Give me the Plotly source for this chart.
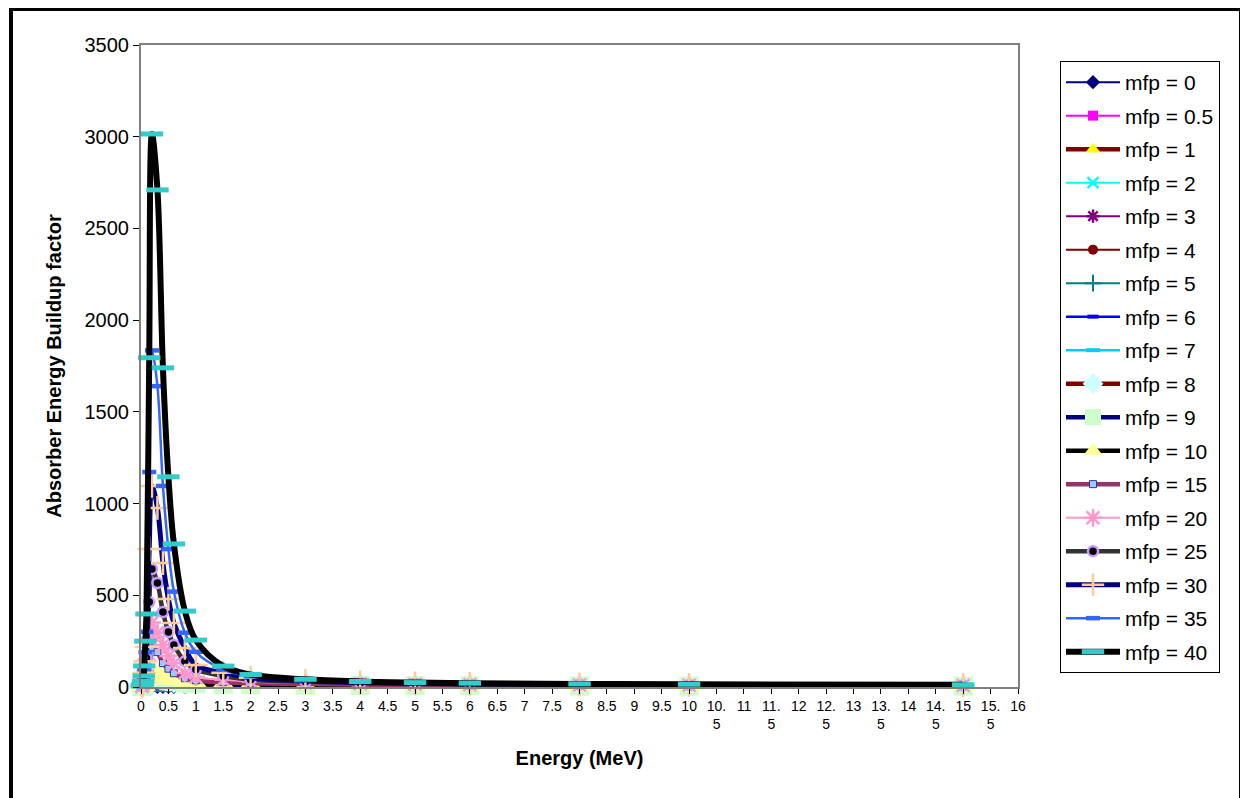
import plotly.graph_objects as go

energy = [0.015, 0.02, 0.03, 0.04, 0.05, 0.06, 0.08, 0.1, 0.15, 0.2, 0.3, 0.4, 0.5, 0.6,
          0.8, 1, 1.5, 2, 3, 4, 5, 6, 8, 10, 15]

mfp_0 = [1] * 25
mfp_0_5 = [1.1, 1.15, 1.35, 1.6, 1.8, 2, 2.3, 2.5, 2.7, 2.75, 2.6, 2.4, 2.2, 2.1, 1.9, 1.8, 1.6, 1.5, 1.4, 1.33, 1.28, 1.25, 1.2, 1.17, 1.13]
mfp_1 = [1.2, 1.3, 1.7, 2.2, 2.6, 3, 3.6, 4.1, 4.6, 4.8, 4.4, 3.9, 3.5, 3.2, 2.9, 2.6, 2.3, 2.1, 1.9, 1.75, 1.65, 1.58, 1.5, 1.43, 1.35]
mfp_2 = [1.3, 1.45, 2.2, 3.1, 3.9, 4.7, 6, 7.1, 8.4, 8.9, 8.2, 7.1, 6.3, 5.7, 4.9, 4.4, 3.8, 3.4, 2.9, 2.7, 2.5, 2.3, 2.15, 2, 1.85]
mfp_3 = [1.4, 1.6, 2.6, 3.8, 5, 6.2, 8.1, 9.8, 12, 13, 12, 10.2, 9, 8, 6.7, 5.9, 5, 4.5, 3.8, 3.4, 3.1, 2.9, 2.7, 2.5, 2.3]
mfp_4 = [1.5, 1.8, 3, 4.5, 6.1, 7.8, 10.5, 13, 16, 17.5, 16, 13.5, 11.7, 10.2, 8.4, 7.3, 6.1, 5.4, 4.6, 4.1, 3.7, 3.4, 3.1, 2.9, 2.6]
mfp_5 = [1.6, 2, 3.4, 5.3, 7.4, 9.8, 13.5, 17, 21, 23, 21, 17.5, 15, 13, 10.6, 9.1, 7.4, 6.5, 5.4, 4.8, 4.3, 4, 3.6, 3.3, 3]
mfp_6 = [1.7, 2.2, 3.8, 6.1, 8.8, 12, 17, 21.5, 27, 30, 27, 22.5, 19, 16.3, 13, 11, 8.9, 7.7, 6.3, 5.5, 4.9, 4.5, 4, 3.7, 3.3]
mfp_7 = [1.8, 2.4, 4.2, 7, 10.3, 14.5, 21, 27, 34, 38, 34, 28, 23.5, 20, 15.7, 13, 10.5, 9, 7.3, 6.3, 5.6, 5.1, 4.5, 4.1, 3.6]
mfp_8 = [1.9, 2.6, 4.7, 8, 12, 17, 26, 33, 42, 47, 43, 35, 29, 24.5, 19, 15.5, 12.3, 10.4, 8.3, 7.1, 6.3, 5.7, 5, 4.5, 4]
mfp_9 = [2, 2.8, 5.3, 9, 14, 20, 31, 40, 52, 58, 54, 44, 36, 30, 23, 18.5, 14.5, 12, 9.5, 8, 7, 6.3, 5.5, 5, 4.4]
mfp_10 = [2.1, 3, 6, 10, 16, 24, 38, 50, 65, 75, 70, 56, 46, 38, 28, 22, 17, 14, 11, 9, 8, 7, 6, 5.5, 4.8]
mfp_15 = [2.5, 3.5, 7, 12, 20, 35, 55, 75, 160, 215, 190, 130, 100, 75, 48, 36, 26, 21, 16, 13, 11, 10, 8.5, 7.5, 6.5]
mfp_20 = [3, 4, 8, 15, 27, 48, 90, 150, 267, 351, 296, 229, 169, 129, 76, 55, 40, 30, 22, 18, 15, 13, 11, 9.5, 8]
mfp_25 = [3, 5, 9, 18, 34, 60, 110, 158, 463, 643, 567, 409, 300, 229, 140, 95, 60, 40, 28, 22, 18, 15, 13, 11, 9]
mfp_30 = [4, 6, 11, 22, 42, 76, 140, 218, 752, 1096, 976, 676, 480, 349, 213, 120, 78, 50, 33, 25, 20, 17, 14, 12, 10]
mfp_35 = [4, 7, 13, 25, 50, 98, 190, 301, 1172, 1835, 1640, 1096, 752, 520, 296, 192, 95, 58, 37, 27, 22, 19, 15, 13, 11]
mfp_40 = [5, 8, 15, 30, 60, 115, 250, 398, 1795, 3015, 2710, 1740, 1146, 780, 414, 256, 114, 68, 42, 30, 24, 21, 17, 15, 12]

series_names = ["mfp = 0", "mfp = 0.5", "mfp = 1", "mfp = 2", "mfp = 3", "mfp = 4", "mfp = 5",
                "mfp = 6", "mfp = 7", "mfp = 8", "mfp = 9", "mfp = 10", "mfp = 15", "mfp = 20",
                "mfp = 25", "mfp = 30", "mfp = 35", "mfp = 40"]
series_values = [mfp_0, mfp_0_5, mfp_1, mfp_2, mfp_3, mfp_4, mfp_5, mfp_6, mfp_7, mfp_8, mfp_9,
                 mfp_10, mfp_15, mfp_20, mfp_25, mfp_30, mfp_35, mfp_40]

x_tickvals = [i * 0.5 for i in range(33)]
x_ticktext = ["0", "0.5", "1", "1.5", "2", "2.5", "3", "3.5", "4", "4.5", "5", "5.5", "6", "6.5",
              "7", "7.5", "8", "8.5", "9", "9.5", "10", "10.<br>5", "11", "11.<br>5", "12",
              "12.<br>5", "13", "13.<br>5", "14", "14.<br>5", "15", "15.<br>5", "16"]

# style: (line color, line width, marker dict)
styles = [
    ("#000080", 2, dict(symbol="diamond", size=11, color="#000080")),
    ("#FF00FF", 2, dict(symbol="square", size=10, color="#FF00FF")),
    ("#800000", 4.5, dict(symbol="triangle-up", size=13, color="#FFFF00")),
    ("#00FFFF", 2, dict(symbol="x-thin-open", size=11, color="#00FFFF", line=dict(color="#00FFFF", width=2.5))),
    ("#800080", 2, dict(symbol="asterisk-open", size=11, color="#800080", line=dict(color="#800080", width=2.5))),
    ("#800000", 2, dict(symbol="circle", size=10, color="#800000")),
    ("#008080", 2, dict(symbol="cross-thin-open", size=12, color="#008080", line=dict(color="#008080", width=2))),
    ("#0000FF", 2.5, dict(symbol="line-ew-open", size=8, color="#0000FF", line=dict(color="#0000FF", width=4))),
    ("#00CCFF", 2.5, dict(symbol="line-ew-open", size=10, color="#00CCFF", line=dict(color="#00CCFF", width=4))),
    ("#800000", 4.5, dict(symbol="diamond", size=16, color="#CCFFFF")),
    ("#000080", 4.5, dict(symbol="square", size=19, color="#CCFFCC")),
    ("#000000", 4.5, dict(symbol="triangle-up", size=20, color="#FFFF99")),
    ("#993366", 4.5, dict(symbol="square", size=7, color="#99CCFF", line=dict(color="#333399", width=1))),
    ("#FF99CC", 2, dict(symbol="asterisk-open", size=15, color="#FF99CC", line=dict(color="#FF99CC", width=2.5))),
    ("#333333", 4.5, dict(symbol="circle", size=10, color="#000000", line=dict(color="#CC99FF", width=2.5))),
    ("#000080", 5, dict(symbol="cross-thin-open", size=17, color="#FFCC99", line=dict(color="#FFCC99", width=2.5))),
    ("#3366FF", 2.5, dict(symbol="line-ew-open", size=10, color="#3366FF", line=dict(color="#3366FF", width=4.5))),
    ("#000000", 6, dict(symbol="line-ew-open", size=16, color="#33CCCC", line=dict(color="#33CCCC", width=5))),
]

fig = go.Figure()
for name, vals, (lc, lw, mk) in zip(series_names, series_values, styles):
    fig.add_trace(go.Scatter(
        x=energy, y=vals, name=name, mode="lines+markers",
        line=dict(color=lc, width=lw, shape="spline", smoothing=1.0),
        marker=mk, legendgroup=name, cliponaxis=False,
    ))

FONT = "Arial, Liberation Sans, sans-serif"
OFF = 8  # page offset of the figure inside the browser window
W, H = 1240, 790
L, T = 141 - OFF, 45 - OFF
R = W - (1018 - OFF)
B = H - (687 - OFF)
pw, ph = W - L - R, H - T - B

def px(xpix):
    return (xpix - OFF - L) / pw

def py(ypix):
    return (H - B - (ypix - OFF)) / ph

fig.update_layout(
    width=W, height=H,
    margin=dict(l=L, r=R, t=T, b=B, autoexpand=False),
    paper_bgcolor="white", plot_bgcolor="white",
    font=dict(family=FONT, color="black"),
    showlegend=True,
    legend=dict(
        x=px(1060), y=py(61), xanchor="left", yanchor="top",
        bgcolor="white", bordercolor="black", borderwidth=1,
        font=dict(family=FONT, size=21, color="black"),
        tracegroupgap=3.2, itemwidth=54,
    ),
    xaxis=dict(
        range=[0, 16], tickvals=x_tickvals, ticktext=x_ticktext, tickangle=0,
        showgrid=False, zeroline=False, showline=True, mirror=True,
        linecolor="#808080", linewidth=2, ticks="outside", ticklen=5, tickcolor="black",
        tickfont=dict(family=FONT, size=14, color="black"),
        title=dict(text="<b>Energy (MeV)</b>", font=dict(family=FONT, size=20, color="black"), standoff=20),
    ),
    yaxis=dict(
        range=[0, 3500], dtick=500, tickformat="d",
        showgrid=False, zeroline=False, showline=True, mirror=True,
        linecolor="#808080", linewidth=2, ticks="outside", ticklen=6, tickcolor="black",
        tickfont=dict(family=FONT, size=20, color="black"),
        title=dict(text="<b>Absorber Energy Buildup factor</b>", font=dict(family=FONT, size=20, color="black"), standoff=18),
    ),
    shapes=[dict(
        type="rect", xref="paper", yref="paper",
        x0=px(11), x1=px(1241), y0=py(812), y1=py(9),
        line=dict(color="black", width=4), fillcolor="rgba(0,0,0,0)", layer="above",
    )],
)

fig.write_html("out.html")
